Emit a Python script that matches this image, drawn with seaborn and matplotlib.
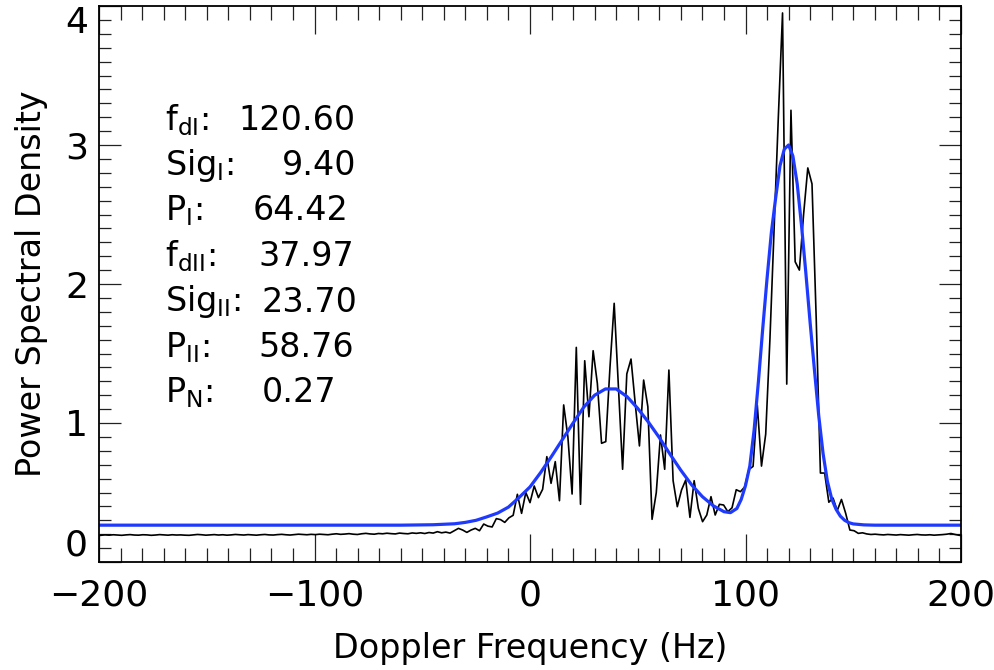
import numpy as np
import pandas as pd
import matplotlib
matplotlib.use("Agg")
import matplotlib.pyplot as plt
from matplotlib.ticker import MultipleLocator
import seaborn as sns

# ---------------- data ----------------
# spectral bins: k * 1000/512 Hz, k = -103 .. 103
bin_index = np.arange(-103, 104)
bin_width_hz = 1000.0 / 512.0

psd_left_floor = [  # k = -103 .. -26
    0.190, 0.192, 0.195, 0.193, 0.196, 0.194, 0.192, 0.195, 0.197, 0.194,
    0.193, 0.196, 0.195, 0.192, 0.194, 0.197, 0.195, 0.193, 0.196, 0.194,
    0.195, 0.193, 0.192, 0.195, 0.198, 0.196, 0.193, 0.195, 0.197, 0.194,
    0.196, 0.193, 0.195, 0.198, 0.196, 0.194, 0.197, 0.195, 0.193, 0.196,
    0.198, 0.195, 0.194, 0.197, 0.199, 0.196, 0.194, 0.197, 0.200, 0.198,
    0.196, 0.199, 0.197, 0.200, 0.198, 0.196, 0.200, 0.203, 0.199, 0.201,
    0.204, 0.200, 0.198, 0.203, 0.206, 0.202, 0.200, 0.205, 0.203, 0.207,
    0.204, 0.202, 0.208, 0.205, 0.203, 0.209, 0.206, 0.210,
]
psd_active = [  # k = -25 .. 80
    0.205, 0.212, 0.208, 0.218, 0.210, 0.215, 0.208, 0.225,
    0.242, 0.230, 0.213, 0.230, 0.242, 0.225, 0.273, 0.258, 0.252, 0.312,
    0.305, 0.285, 0.318, 0.336, 0.487, 0.350, 0.500, 0.427,
    0.547, 0.463, 0.523, 0.758, 0.566, 0.722, 0.441, 1.130, 0.900, 0.489,
    1.544, 0.415, 1.448, 1.045, 1.520, 1.285, 0.854, 0.866, 1.400, 1.861,
    1.260, 0.667, 1.353, 1.460, 1.140, 0.835, 1.309, 1.117, 0.307, 0.499,
    0.914, 0.667, 1.381, 0.585, 0.398, 0.518, 0.590, 0.321, 0.585, 0.385,
    0.290, 0.338, 0.470, 0.338, 0.415, 0.410, 0.362, 0.390, 0.520, 0.506,
    0.540, 0.665, 0.688, 1.130, 0.690, 0.920, 1.600, 2.400, 3.200, 3.950,
    1.280, 3.250, 2.160, 2.100, 2.500, 2.835, 2.720, 1.750, 0.640, 0.640,
    0.430, 0.460, 0.370, 0.450, 0.350, 0.230, 0.225, 0.206, 0.210, 0.202,
]
psd_right_floor = [  # k = 81 .. 103
    0.198, 0.200, 0.197, 0.195, 0.198, 0.196, 0.194, 0.197, 0.195, 0.193,
    0.196, 0.198, 0.195, 0.194, 0.196, 0.193, 0.195, 0.197, 0.200, 0.205,
    0.198, 0.192, 0.190,
]
psd_values = psd_left_floor + psd_active + psd_right_floor

# fitted model curve at these frequencies
fit_freq = [-200, -60, -45, -35, -30, -25, -20, -15, -10, -5, 0, 5, 10, 15,
            20, 25, 30, 35, 40, 45, 50, 55, 60, 65, 70, 75, 80, 85, 90, 93,
            96, 98, 100, 102, 104, 106, 108, 110, 112, 114, 116, 118, 120,
            122, 124, 126, 128, 130, 132, 134, 136, 138, 140, 142, 144, 146,
            148, 150, 155, 160, 200]
fit_values = [0.265, 0.265, 0.268, 0.275, 0.285, 0.300, 0.325, 0.352, 0.395,
              0.465, 0.540, 0.645, 0.760, 0.880, 1.000, 1.115, 1.200, 1.245,
              1.245, 1.190, 1.105, 1.005, 0.895, 0.775, 0.660, 0.555, 0.470,
              0.405, 0.362, 0.355, 0.385, 0.450, 0.550, 0.690, 0.950, 1.300,
              1.680, 2.040, 2.370, 2.620, 2.850, 2.970, 3.000, 2.920, 2.720,
              2.420, 2.080, 1.720, 1.380, 1.050, 0.780, 0.580, 0.455, 0.380,
              0.330, 0.300, 0.283, 0.274, 0.267, 0.265, 0.265]

param_labels = [r"f$_{\mathrm{dI}}$:", r"Sig$_{\mathrm{I}}$:", r"P$_{\mathrm{I}}$:",
                r"f$_{\mathrm{dII}}$:", r"Sig$_{\mathrm{II}}$:", r"P$_{\mathrm{II}}$:",
                r"P$_{\mathrm{N}}$:"]
param_values = ["120.60", "9.40", "64.42", "37.97", "23.70", "58.76", "0.27"]

x_ticks = [-200, -100, 0, 100, 200]
y_ticks = [0, 1, 2, 3, 4]

# ---------------- figure ----------------
sns.set_theme(style="ticks")
plt.rcParams["font.family"] = ["DejaVu Sans"]
plt.rcParams["mathtext.fontset"] = "dejavusans"
for key in ("text.color", "axes.labelcolor", "xtick.color", "ytick.color"):
    plt.rcParams[key] = "black"

W, H = 995, 670
fig = plt.figure(figsize=(W / 100, H / 100), dpi=100, facecolor="white")
ax = fig.add_axes([99 / W, 1 - 562 / H, (961 - 99) / W, (562 - 6) / H])
ax.set_facecolor("white")

df_psd = pd.DataFrame({"freq": bin_index * bin_width_hz, "psd": psd_values})
df_fit = pd.DataFrame({"freq": fit_freq, "fit": fit_values})

sns.lineplot(data=df_psd, x="freq", y="psd", color="black", linewidth=1.2,
             estimator=None, sort=False, ax=ax)
sns.lineplot(data=df_fit, x="freq", y="fit", color="#1f3aff", linewidth=2.3,
             estimator=None, sort=False, ax=ax)

ax.set_xlim(-200, 200)
ax.set_ylim(0, 4.0)
ax.set_xticks(x_ticks)
ax.set_yticks(y_ticks)
ax.xaxis.set_minor_locator(MultipleLocator(10))
ax.yaxis.set_minor_locator(MultipleLocator(0.1))

ax.tick_params(which="both", direction="in", top=True, right=True,
               color="#222222", width=0.9)
ax.tick_params(axis="x", which="major", length=20, labelsize=26, pad=12)
ax.tick_params(axis="x", which="minor", length=10)
ax.tick_params(axis="y", which="major", length=16, labelsize=26, pad=8)
ax.tick_params(axis="y", which="minor", length=8.5)

for sp in ax.spines.values():
    sp.set_color("black")
    sp.set_linewidth(1.3)

ax.set_xlabel("Doppler Frequency (Hz)", fontsize=24, labelpad=14)
ax.set_ylabel("Power Spectral Density", fontsize=24, labelpad=12)

# keep the end labels of the y axis inside the frame, as in the reference
fig.canvas.draw()
ylabels = ax.get_yticklabels()
ylabels[0].set_va("bottom")
ylabels[-1].set_va("top")

# parameter annotations (pixel positions from the reference)
label_x = 165
value_x = [238, 282, 253, 258, 262, 258, 262]
for i, (lab, val) in enumerate(zip(param_labels, param_values)):
    yc = 120 + 45.5 * i
    fig.text(label_x / W, 1 - yc / H, lab, fontsize=24, va="center", ha="left")
    fig.text(value_x[i] / W, 1 - yc / H, val, fontsize=24, va="center", ha="left")

fig.savefig("out.png", dpi=100, facecolor="white")
